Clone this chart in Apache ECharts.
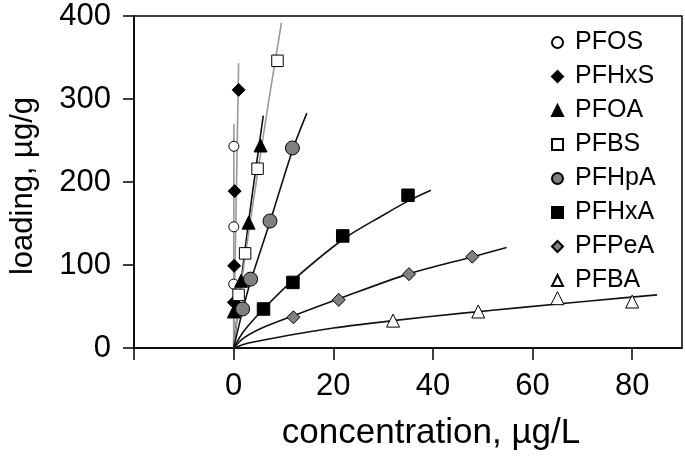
<!DOCTYPE html>
<html>
<head>
<meta charset="utf-8">
<script src="https://cdn.jsdelivr.net/npm/echarts@6/dist/echarts.min.js"></script>
<style>html,body{margin:0;padding:0;background:#fff}#c{width:685px;height:456px}</style>
</head>
<body>
<div id="c"></div>
<script>
// ---- data ----
const seriesNames = ['PFOS','PFHxS','PFOA','PFBS','PFHpA','PFHxA','PFPeA','PFBA'];
const xTicks = [0, 20, 40, 60, 80];
const yTicks = [0, 100, 200, 300, 400];

// measured points
const pfosX  = [0.02, 0.03, 0.05];
const pfosY  = [77, 146, 243];
const pfhxsX = [0.05, 0.1, 0.2, 1.0];
const pfhxsY = [55, 99, 189, 311];
const pfoaX  = [0.05, 1.5, 3.0, 5.4];
const pfoaY  = [44, 81, 151, 244];
const pfbsX  = [1.0, 2.3, 4.8, 8.8];
const pfbsY  = [64, 114, 216, 346];
const pfhpaX = [1.8, 3.4, 7.3, 11.8];
const pfhpaY = [47, 83, 153, 241];
const pfhxaX = [6.0, 11.9, 21.9, 35.0];
const pfhxaY = [47, 79, 135, 184];
const pfpeaX = [12.0, 21.1, 35.2, 47.9];
const pfpeaY = [37, 58, 89, 110];
const pfbaX  = [32.0, 49.1, 65.0, 80.0];
const pfbaY  = [33, 44, 60, 56];

// fitted isotherm curves
const pfosFitX  = [0, 0.05];
const pfosFitY  = [0, 270];
const pfhxsFitX = [0, 0.55, 1.0];
const pfhxsFitY = [0, 189, 343];
const pfoaFitX  = [0, 1.5, 3.0, 4.5, 5.95];
const pfoaFitY  = [0, 80, 152, 218, 280];
const pfbsFitX  = [0, 1.0, 2.3, 4.8, 7.0, 9.6];
const pfbsFitY  = [0, 52, 110, 210, 296, 392];
const pfhpaFitX = [0, 1.8, 3.4, 7.3, 11.8, 14.7];
const pfhpaFitY = [0, 45, 80, 152, 238, 283];
const pfhxaFitX = [0, 2, 6, 12, 22, 30, 35, 39.6];
const pfhxaFitY = [0, 20, 47, 82, 131, 160, 177, 190];
const pfpeaFitX = [0, 2, 6, 12, 21, 35, 48, 54.8];
const pfpeaFitY = [0, 12, 25, 39, 59, 89, 110, 121];
const pfbaFitX  = [0, 3, 9, 20, 32, 46, 58, 72, 85];
const pfbaFitY  = [0, 6, 13, 24, 33, 42, 49, 57, 64];

// ---- styles ----
const pts = [[pfosX,pfosY],[pfhxsX,pfhxsY],[pfoaX,pfoaY],[pfbsX,pfbsY],[pfhpaX,pfhpaY],[pfhxaX,pfhxaY],[pfpeaX,pfpeaY],[pfbaX,pfbaY]];
const fits = [[pfosFitX,pfosFitY],[pfhxsFitX,pfhxsFitY],[pfoaFitX,pfoaFitY],[pfbsFitX,pfbsFitY],[pfhpaFitX,pfhpaFitY],[pfhxaFitX,pfhxaFitY],[pfpeaFitX,pfpeaFitY],[pfbaFitX,pfbaFitY]];
const sym   = ['circle','diamond','triangle','rect','circle','rect','diamond','triangle'];
const size  = [10, 13, 13, 11.5, 14, 12.5, 13, 13];
const fill  = ['#fff','#000','#000','#fff','#808080','#000','#808080','#fff'];
const lineC = ['#999','#999','#111','#999','#111','#111','#111','#111'];

const zip = (a, b) => a.map((v, i) => [v, b[i]]);
const FONT = 'Liberation Sans, Arial, sans-serif';

const series = [];
fits.forEach((f, i) => {
  series.push({
    name: seriesNames[i] + ' fit', type: 'line', data: zip(f[0], f[1]),
    showSymbol: false, symbol: 'none', smooth: 0.3, silent: true,
    lineStyle: { color: lineC[i], width: 1.6 }, z: 2
  });
});
pts.forEach((p, i) => {
  series.push({
    name: seriesNames[i], type: 'scatter', data: zip(p[0], p[1]),
    symbol: sym[i], symbolSize: size[i],
    itemStyle: { color: fill[i], borderColor: '#000', borderWidth: 1, opacity: 1 }, z: 3
  });
});

const chart = echarts.init(document.getElementById('c'), null, { renderer: 'canvas' });
chart.setOption({
  animation: false,
  backgroundColor: '#fff',
  textStyle: { fontFamily: FONT, color: '#000' },
  grid: { left: 127, right: 3, top: 16, bottom: 106, show: true, borderColor: '#000', borderWidth: 1.5, backgroundColor: 'transparent' },
  legend: {
    data: seriesNames, orient: 'vertical', left: 546, top: 25,
    itemWidth: 11, itemHeight: 11, itemGap: 9,
    textStyle: { fontFamily: FONT, fontSize: 25, color: '#000', padding: [0, 0, 0, 7] },
    selectedMode: false
  },
  xAxis: {
    type: 'value', min: -20, max: 90, interval: 20,
    name: 'concentration, µg/L', nameLocation: 'middle', nameGap: 68,
    nameTextStyle: { fontFamily: FONT, fontSize: 35, color: '#000', padding: [0, 0, 0, 46] },
    splitLine: { show: false },
    axisLine: { show: true, onZero: false, lineStyle: { color: '#000', width: 1.5 } },
    axisTick: { show: true, length: 12, customValues: [-20].concat(xTicks), lineStyle: { color: '#000', width: 1.5 } },
    axisLabel: { fontFamily: FONT, fontSize: 31, color: '#000', margin: 23, customValues: xTicks,
      formatter: v => (xTicks.indexOf(v) >= 0 ? String(v) : '') }
  },
  yAxis: {
    type: 'value', min: 0, max: 400, interval: 100,
    name: 'loading, µg/g', nameLocation: 'middle', nameGap: 95, nameRotate: 90,
    nameTextStyle: { fontFamily: FONT, fontSize: 31, color: '#000', padding: [0, 8, 0, 0] },
    splitLine: { show: false },
    axisLine: { show: true, onZero: false, lineStyle: { color: '#000', width: 1.5 } },
    axisTick: { show: true, length: 11, customValues: yTicks, lineStyle: { color: '#000', width: 1.5 } },
    axisLabel: { fontFamily: FONT, fontSize: 31, color: '#000', margin: 23, customValues: yTicks,
      formatter: v => (yTicks.indexOf(v) >= 0 ? String(v) : '') }
  },
  series: series
});
</script>
</body>
</html>
